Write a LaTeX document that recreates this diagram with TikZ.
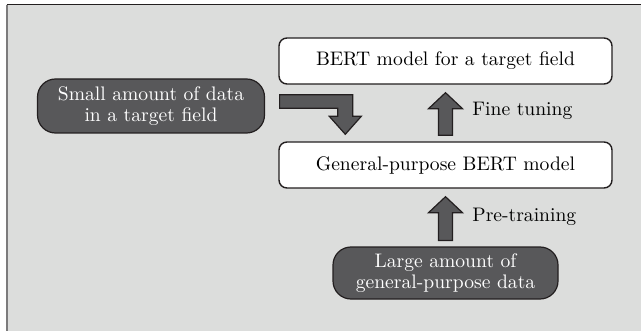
\documentclass[tikz,border=0pt]{standalone}
\usetikzlibrary{calc}
\definecolor{panel}{HTML}{DCDDDC}
\definecolor{darkfill}{HTML}{58585A}
\definecolor{edge}{HTML}{231F20}
\definecolor{frameleft}{HTML}{7C7B7C}
\tikzset{
  whitebox/.style={draw=edge, line width=0.7pt, fill=white, rounded corners=4pt,
    minimum width=166.5pt, minimum height=23pt, inner sep=0pt, font=\fontsize{9.8}{11}\selectfont},
  darkbox/.style={draw=edge, line width=0.6pt, fill=darkfill, rounded corners=9pt,
    text=white, align=center, inner sep=0pt, font=\fontsize{9.8}{10.4}\selectfont},
  blockarrow/.style={draw=edge, line width=0.6pt, fill=darkfill, line join=miter},
  steplabel/.style={anchor=west, inner sep=0pt, font=\fontsize{9.8}{11}\selectfont},
}
\begin{document}
\begin{tikzpicture}[x=0.5pt, y=-0.5pt]
  \useasboundingbox (0,0) rectangle (641,331);
  % panel and its frame
  \fill[white] (0,0) rectangle (641,331);
  \fill[panel] (7,5) rectangle (641,331);
  \draw[frameleft, line width=1pt] (7,5) -- (7,331);
  \draw[edge, line width=0.5pt] (6.5,5) -- (641,5);

  % boxes
  \node[whitebox] (top) at (445.5,61) {BERT model for a target field};
  \node[whitebox] (mid) at (445.5,165) {General-purpose BERT model};
  \node[darkbox, minimum width=113.5pt, minimum height=27pt] (small) at (151,106)
    {Small amount of data\\in a target field};
  \node[darkbox, minimum width=112.5pt, minimum height=26pt] (large) at (445.5,273)
    {Large amount of\\general-purpose data};

  % vertical block arrows: shaft 7pt wide, head 17pt wide and 8pt long
  \newcommand\upblock[2]{%
    \path[blockarrow] let \p1=($(#1.north)+(0,3pt)$), \p2=($(#2.south)+(0,-4pt)$) in
      (\x1-3.5pt,\y1) -- (\x1-3.5pt,\y2-8pt) -- (\x1-8.5pt,\y2-8pt) -- (\x1,\y2)
      -- (\x1+8.5pt,\y2-8pt) -- (\x1+3.5pt,\y2-8pt) -- (\x1+3.5pt,\y1) -- cycle;}
  \upblock{mid}{top}
  \upblock{large}{mid}

  % bent arrow from the small data box down into the general model
  \coordinate (bendstart) at ($(small.east)+(7.25pt,2.25pt)$);
  \coordinate (bendtip) at ($(mid.north west)+(33.5pt,3.5pt)$);
  \path[blockarrow] let \p1=(bendstart), \p2=(bendtip) in
    (\x1,\y1+3.4pt) -- (\x2+3.75pt,\y1+3.4pt) -- (\x2+3.75pt,\y2+9pt)
    -- (\x2+8pt,\y2+9pt) -- (\x2,\y2) -- (\x2-8pt,\y2+9pt) -- (\x2-3.75pt,\y2+9pt)
    -- (\x2-3.75pt,\y1-3.4pt) -- (\x1,\y1-3.4pt) -- cycle;

  % step labels
  \node[steplabel] (fine) at (472,111) {Fine tuning};
  \node[steplabel] (pre) at (472,217) {Pre-training};
\end{tikzpicture}
\end{document}
